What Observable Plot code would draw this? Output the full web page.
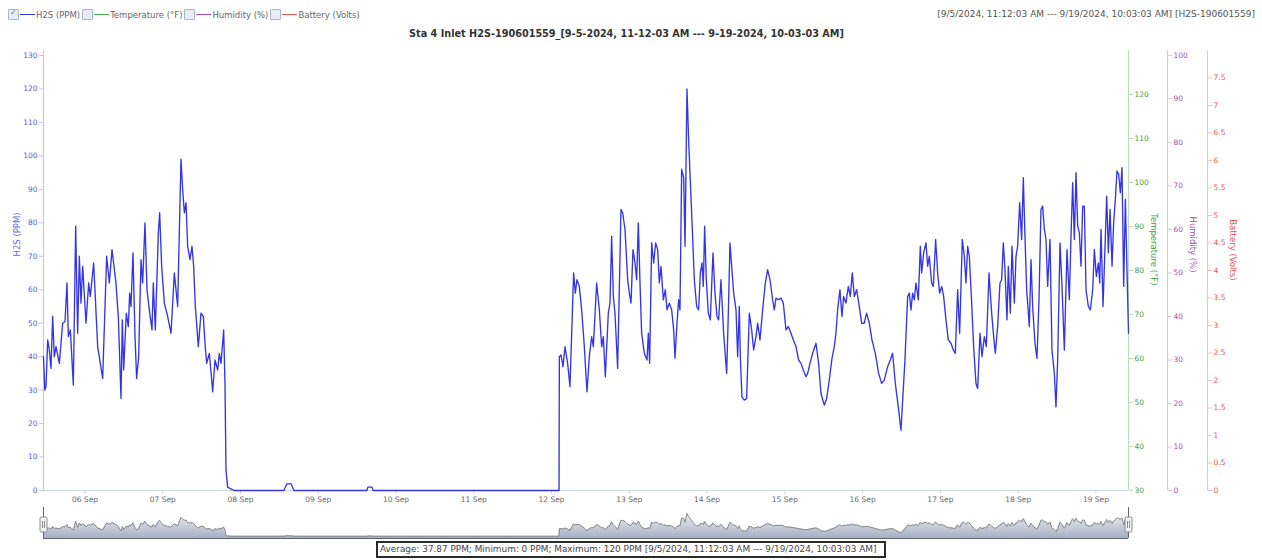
<!DOCTYPE html>
<html>
<head>
<meta charset="utf-8">
<script src="https://cdn.jsdelivr.net/npm/d3@7"></script>
<script src="https://cdn.jsdelivr.net/npm/@observablehq/plot@0.6"></script>
<style>
  html, body { margin: 0; padding: 0; background: #fff; }
  body { width: 1262px; height: 560px; position: relative; overflow: hidden;
         font-family: "DejaVu Sans", Verdana, sans-serif; }
  #legend { position: absolute; left: 8px; top: 9px; font-size: 8.5px; color: #666;
            white-space: nowrap; display: flex; align-items: center; }
  .cb { display: inline-block; width: 9px; height: 9px; border: 1px solid #aab7ca;
        background: #e8edf5; border-radius: 1px; position: relative; margin-right: 1px; }
  .cb.on::after { content: "\2713"; position: absolute; left: 1px; top: -2px;
                  font-size: 8px; color: #4b6fae; }
  .sw { display: inline-block; width: 15px; height: 0; border-top: 1px solid; margin-right: 1px; }
  .lt { margin-right: 2px; }
  #range { position: absolute; right: 7px; top: 9px; font-size: 9px; color: #555; white-space: nowrap; }
  #title { position: absolute; left: 0; width: 1253px; top: 28px; text-align: center;
           font-size: 9.7px; font-weight: bold; color: #333; white-space: nowrap; }
  #main { position: absolute; left: 0; top: 45px; }
  #nav { position: absolute; left: 0; top: 505px; }
  #stats { position: absolute; left: 376px; top: 541px; width: 504px; height: 13px;
           border: 2px solid #2b2b2b; font-size: 8.9px; color: #444; line-height: 13px;
           padding-left: 2px; white-space: nowrap; overflow: hidden; }
</style>
</head>
<body>
<div id="legend">
  <span class="cb on"></span><span class="sw" style="border-color:#3535e6"></span><span class="lt">H2S (PPM)</span>
  <span class="cb"></span><span class="sw" style="border-color:#4caf50"></span><span class="lt">Temperature (°F)</span>
  <span class="cb"></span><span class="sw" style="border-color:#a64ca6"></span><span class="lt">Humidity (%)</span>
  <span class="cb"></span><span class="sw" style="border-color:#e85a5a"></span><span class="lt">Battery (Volts)</span>
</div>
<div id="range">[9/5/2024, 11:12:03 AM --- 9/19/2024, 10:03:03 AM] [H2S-190601559]</div>
<div id="title">Sta 4 Inlet H2S-190601559_[9-5-2024, 11-12-03 AM --- 9-19-2024, 10-03-03 AM]</div>
<div id="main"></div>
<div id="nav"></div>
<div id="stats">Average: 37.87 PPM; Minimum: 0 PPM; Maximum: 120 PPM [9/5/2024, 11:12:03 AM --- 9/19/2024, 10:03:03 AM]</div>

<script>
// Record window of sensor H2S-190601559
const recordStart = Date.UTC(2024, 8, 5, 11, 12, 3);
const recordEnd = Date.UTC(2024, 8, 19, 10, 3, 3);

// Readings: hours elapsed since the first record, and H2S concentration (PPM)
const elapsedHours = [
  0, 0.4, 0.77, 1.29, 1.8, 2.31, 2.83, 3.34, 3.86, 4.89, 5.91, 6.64, 7.25, 7.66, 8.28, 9.21, 9.93, 10.54,
  11.06, 11.57, 12.09, 13.12, 13.94, 14.45, 15.48, 16.72, 18.26, 19.49, 20.32, 21.14, 22.37, 23.09, 23.92,
  24.33, 24.74, 25.56, 26.18, 26.59, 27.0, 27.62, 28.24, 28.75, 29.37, 30.09, 30.6, 31.32, 31.94, 32.66,
  33.48, 33.89, 34.51, 35.44, 35.85, 36.47, 37.29, 38.32, 39.35, 40.38, 41.4, 42.43, 42.95, 43.46, 43.98,
  44.49, 45.21, 45.83, 46.34, 46.86, 47.78, 48.61, 49.33, 49.84, 50.36, 51.18, 51.69, 52.21, 52.93, 53.75,
  54.26, 54.78, 55.6, 56.01, 56.32, 56.83, 57.86, 58.8,
  74.2, 75.1, 76.4, 77.3, 99.8, 100.1, 101.4, 101.7, 159.1,
  159.2, 159.71, 160.33, 160.94, 161.76, 162.48, 163.61, 164.13, 164.64, 165.36, 166.08, 166.91, 167.73,
  168.45, 169.17, 169.69, 170.71, 171.54, 172.26, 172.77, 173.39, 174.31, 174.83, 175.34, 175.86, 176.37,
  177.19, 178.22, 178.74, 179.46, 180.28, 180.8, 181.31, 181.93, 182.55, 183.06, 183.57, 184.09, 184.6,
  185.43, 186.25, 186.66, 187.07, 187.69, 188.31, 188.92, 189.54, 190.05, 190.57, 191.29, 191.9, 192.42,
  193.14, 193.86, 194.48, 194.89, 195.51, 196.02, 196.43, 196.95, 197.57, 197.98, 198.59, 199.11, 199.62,
  200.24, 200.86, 201.58, 202.19, 202.71, 203.22, 203.63, 204.04, 204.56, 205.17, 205.79, 206.61, 207.23,
  207.85, 208.36, 209.08, 209.9, 210.84, 211.35, 211.86, 212.38, 213.0, 213.72, 214.23, 214.74, 215.05,
  215.56, 216.28, 217.0, 217.83, 218.55, 219.16, 219.88, 220.4, 221.12, 221.94, 222.76, 223.48, 224.2,
  225.03, 225.54, 226.06, 226.88, 227.6, 228.32, 229.14, 229.86, 230.69, 231.41, 232.23, 233.05, 233.77,
  234.49, 235.32, 235.83, 236.55, 237.37, 238.4, 239.22, 239.94, 240.97, 241.69, 242.51, 243.34, 244.06,
  244.57, 245.08, 245.8, 246.42, 246.93, 247.65, 248.37, 248.99, 249.61, 250.23, 250.95, 251.77, 252.49,
  253.31, 254.03, 254.86, 255.68, 256.71, 257.74, 258.66, 259.48, 260.51, 261.34, 262.06, 262.88, 263.81,
  264.63, 265.86, 266.69, 267.2, 267.72, 268.23, 268.75, 269.26, 269.98, 270.6, 271.01, 271.63, 272.35,
  272.86, 273.38, 274.1, 274.61, 275.33, 275.95, 276.57, 277.19, 277.8, 278.52, 279.24, 280.07, 280.79,
  281.4, 282.12, 282.74, 283.56, 284.18, 284.7, 285.21, 285.73, 286.45, 287.06, 287.78, 288.3, 289.02,
  289.64, 290.36, 290.97, 291.8, 292.62, 293.24, 293.75, 294.47, 295.19, 295.7, 296.22, 296.73, 297.35,
  297.76, 298.38, 298.9, 299.62, 300.13, 300.64, 301.26, 301.87, 302.39, 302.9, 303.42, 304.24, 304.76,
  305.27, 305.99, 306.61, 307.23, 307.84, 308.36, 308.87, 309.39, 309.9, 310.62, 311.24, 311.96, 312.47,
  312.99, 313.71, 314.33, 315.05, 315.87, 316.59, 317.11, 317.62, 318.14, 318.65, 319.17, 319.68, 320.19,
  320.71, 321.22, 321.74, 322.46, 323.08, 323.8, 324.31, 324.93, 325.55, 325.96, 326.37, 326.99, 327.61,
  328.12, 328.64, 329.15, 329.77, 330.27, 330.79, 331.3, 331.82, 332.33, 332.85, 333.36, 333.88, 334.39,
  334.85
];
const h2sPpm = [
  40, 30, 31, 45, 42, 36.5, 52, 40, 43, 38, 50, 50.5, 62, 46, 48, 31.5, 79, 47,
  70, 56, 67, 50, 62, 58, 68, 43, 33.5, 70, 62, 72, 62, 52, 27.5,
  51, 36, 53, 49, 59, 55, 71, 46, 33.5, 40, 69, 62, 80, 60, 54,
  48, 62, 48, 77, 83, 67, 56, 52, 47, 65, 55, 99, 90, 83, 86,
  73, 69, 73, 67, 55, 43, 53, 52, 44, 38, 41, 35.5, 29.5, 39, 36,
  41, 38, 48, 32, 6, 1, 0.5, 0,
  0, 2, 2, 0, 0, 1, 1, 0, 0,
  40, 40.5, 37, 43, 38, 31, 65, 59, 63, 61, 54, 43, 29.5,
  40, 46, 43, 62, 54, 43, 46, 34, 53, 56, 76, 58, 53,
  36.5, 84, 83, 78, 63, 59, 56, 72, 68, 63, 80, 62, 47,
  41, 39, 47, 38, 74, 68, 74, 72, 62, 67, 57, 60, 54,
  56, 54, 48, 39.5, 50, 57, 54, 96, 93.5, 73, 120, 104.5, 92.5,
  78, 63, 55, 54, 65, 68, 61, 79, 63, 53, 51, 71, 59,
  52, 51, 63, 47, 35, 53, 74, 67, 59, 54, 40, 55, 40,
  28, 27, 27.5, 53, 48, 42, 46, 50, 45, 54, 62, 66, 63,
  57, 54, 57.5, 57, 57.5, 56, 48, 49, 47, 45, 43, 39, 38,
  36, 34, 35, 38, 41, 44, 38, 29, 25.5, 27.5, 33, 39.5, 43,
  47, 54, 60, 52, 58, 56, 61, 58, 65, 58, 60, 55, 50,
  50, 53, 50, 45, 41, 35, 32, 33, 37, 39, 41, 32, 25,
  18, 39, 58, 59, 54, 59, 57, 62, 57, 73, 65, 71, 74,
  67, 70, 62, 61, 75, 65, 59, 61, 58, 51, 45, 44, 42,
  41, 60, 47, 75, 70, 62, 73, 70, 56, 43, 32, 30.5, 47,
  40, 46, 43, 65, 53, 46, 41, 49, 62, 63, 74, 66, 51,
  67, 53, 73, 56, 70, 73, 86, 75, 93.5, 76, 60, 49, 69,
  55, 44, 39.5, 57, 84, 85, 78, 75, 61, 75, 42, 35, 25,
  39, 74, 61, 42, 72, 57, 76, 92, 75, 95, 79, 77, 67,
  85, 85, 60, 55, 54, 60, 72, 64, 68, 62, 78, 55, 73,
  88, 71, 84, 67, 80, 87, 95.5, 94.5, 89, 96.5, 61, 87, 66,
  47
];

// Axis tick values
const dayTicks = ["2024-09-06", "2024-09-07", "2024-09-08", "2024-09-09", "2024-09-10", "2024-09-11", "2024-09-12",
                  "2024-09-13", "2024-09-14", "2024-09-15", "2024-09-16", "2024-09-17", "2024-09-18", "2024-09-19"];
const h2sTicks = [0, 10, 20, 30, 40, 50, 60, 70, 80, 90, 100, 110, 120, 130];
const temperatureTicks = [30, 40, 50, 60, 70, 80, 90, 100, 110, 120];
const humidityTicks = [0, 10, 20, 30, 40, 50, 60, 70, 80, 90, 100];
const batteryTicks = [0, 0.5, 1, 1.5, 2, 2.5, 3, 3.5, 4, 4.5, 5, 5.5, 6, 6.5, 7, 7.5];

// Extents of each vertical axis over the plotting area
const h2sDomain = [0, 131.5];
const temperatureDomain = [30, 130];
const humidityDomain = [0, 101.1];
const batteryDomain = [0, 8];

const readings = elapsedHours.map((h, i) => ({time: new Date(recordStart + h * 3600e3), ppm: h2sPpm[i]}));
const t0 = new Date(recordStart), t1 = new Date(recordEnd);

// Secondary axes share the H2S y scale: map their values linearly onto it and back
const toH2S = ([a, b]) => v => (v - a) / (b - a) * (h2sDomain[1] - h2sDomain[0]) + h2sDomain[0];
const fromH2S = ([a, b]) => y => (y - h2sDomain[0]) / (h2sDomain[1] - h2sDomain[0]) * (b - a) + a;
const fmt = v => String(+v.toFixed(2));

function sideAxis(ticks, domain, dx, stroke, fill) {
  return Plot.axisY(ticks.map(toH2S(domain)), {
    anchor: "right", dx, tickSize: 4, tickPadding: 2, stroke, fill, label: null,
    tickFormat: y => fmt(fromH2S(domain)(y))
  });
}

const colors = {
  h2s: "#3535e6", h2sText: "#5a5ad6", h2sAxis: "#c2c2f0",
  temp: "#45a045", tempAxis: "#b9dcb9",
  hum: "#a94fa9", humAxis: "#dcc5dc",
  bat: "#ec5555", batAxis: "#f6c1c1"
};

const main = Plot.plot({
  width: 1262, height: 465,
  marginLeft: 43, marginRight: 134, marginTop: 5, marginBottom: 20,
  style: {fontFamily: "'DejaVu Sans', Verdana, sans-serif", fontSize: "7.5px", background: "transparent", overflow: "visible"},
  x: {type: "utc", domain: [t0, t1]},
  y: {domain: h2sDomain},
  marks: [
    Plot.ruleY([0], {stroke: "#ccd6eb"}),
    Plot.ruleX([t0], {stroke: colors.h2sAxis}),
    Plot.ruleX([t1], {stroke: colors.tempAxis}),
    Plot.ruleX([t1], {stroke: colors.humAxis, dx: 39}),
    Plot.ruleX([t1], {stroke: colors.batAxis, dx: 79}),
    Plot.axisX(dayTicks.map(d => new Date(d)), {
      tickSize: 4, tickPadding: 2, stroke: "#ccd6eb", fill: "#666", label: null,
      tickFormat: d3.utcFormat("%d %b")
    }),
    Plot.axisY(h2sTicks, {anchor: "left", tickSize: 4, tickPadding: 2, stroke: colors.h2sAxis, fill: colors.h2sText, label: null}),
    sideAxis(temperatureTicks, temperatureDomain, 0, colors.tempAxis, colors.temp),
    sideAxis(humidityTicks, humidityDomain, 39, colors.humAxis, colors.hum),
    sideAxis(batteryTicks, batteryDomain, 79, colors.batAxis, colors.bat),
    Plot.lineY(readings, {x: "time", y: "ppm", stroke: colors.h2s, strokeWidth: 1.35}),
    Plot.text(["H2S (PPM)"], {frameAnchor: "left", dx: -26, dy: -14, rotate: -90, fill: "#6a6ae0", fontSize: 8.5}),
    Plot.text(["Temperature (°F)"], {frameAnchor: "right", dx: 25, dy: 15, rotate: 90, fill: colors.temp, fontSize: 8.5}),
    Plot.text(["Humidity (%)"], {frameAnchor: "right", dx: 64, dy: 2, rotate: 90, fill: colors.hum, fontSize: 8.5}),
    Plot.text(["Battery (Volts)"], {frameAnchor: "right", dx: 104, dy: 10, rotate: 90, fill: colors.bat, fontSize: 8.5})
  ]
});
document.getElementById("main").append(main);

// Overview strip of the whole record with range handles
const navBase = -12;
const nav = Plot.plot({
  width: 1262, height: 36,
  marginLeft: 43, marginRight: 134, marginTop: 7, marginBottom: 3,
  style: {background: "transparent", overflow: "visible"},
  x: {type: "utc", domain: [t0, t1], axis: null},
  y: {domain: [navBase, 125], axis: null},
  marks: [
    () => {
      const defs = d3.create("svg:defs");
      const g = defs.append("linearGradient").attr("id", "navFill").attr("x1", 0).attr("y1", 0).attr("x2", 0).attr("y2", 1);
      g.append("stop").attr("offset", "0%").attr("stop-color", "#eceef3");
      g.append("stop").attr("offset", "100%").attr("stop-color", "#a7b0c2");
      return defs.node();
    },
    Plot.areaY(readings, {x: "time", y1: navBase, y2: "ppm", fill: "url(#navFill)"}),
    Plot.lineY(readings, {x: "time", y: "ppm", stroke: "#888", strokeWidth: 1}),
    Plot.ruleY([navBase], {stroke: "#5f6673"}),
    (index, scales, values, dims) => {
      const g = d3.create("svg:g");
      for (const t of [t0, t1]) {
        const x = Math.round(scales.x(t)) + 0.5;
        g.append("line").attr("x1", x).attr("x2", x).attr("y1", 2).attr("y2", dims.height - dims.marginBottom)
          .attr("stroke", "#666");
        g.append("rect").attr("x", x - 3.5).attr("y", 12).attr("width", 7).attr("height", 15).attr("rx", 1.5)
          .attr("fill", "#f2f2f2").attr("stroke", "#8a8a8a");
        for (const o of [-1, 1]) {
          g.append("line").attr("x1", x + o).attr("x2", x + o).attr("y1", 16).attr("y2", 23).attr("stroke", "#8a8a8a");
        }
      }
      return g.node();
    }
  ]
});
document.getElementById("nav").append(nav);
</script>
</body>
</html>
